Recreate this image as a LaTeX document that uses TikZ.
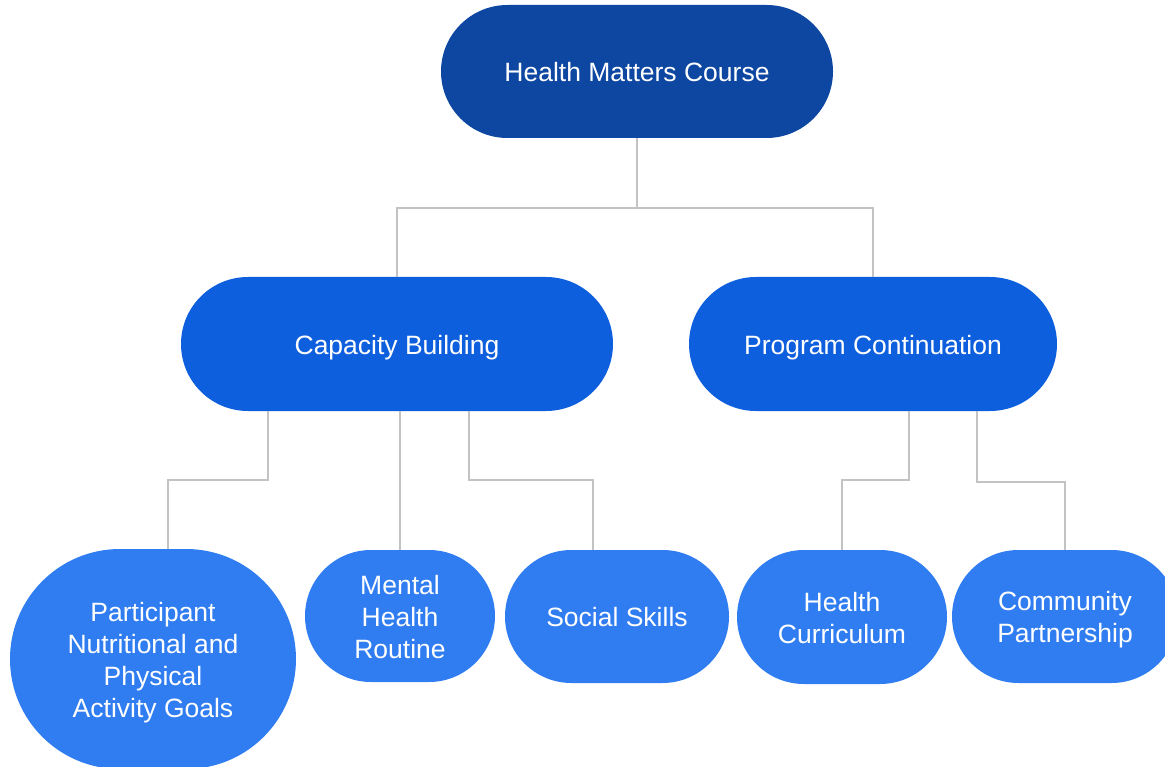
\documentclass[tikz,border=0pt]{standalone}
\usepackage{fontspec}
\setmainfont{Liberation Sans}
\usetikzlibrary{calc}
\definecolor{rootblue}{HTML}{0D47A1}
\definecolor{midblue}{HTML}{0E5FDD}
\definecolor{leafblue}{HTML}{307DF1}
\definecolor{linkgray}{HTML}{C3C3C3}
% fixed top and bottom extents so every label sits on the same vertical centre
\newcommand\topstrut{\rule{0pt}{1.0em}}
\newcommand\botstrut{\rule[-0.22em]{0pt}{0.22em}}
\begin{document}
\begin{tikzpicture}[x=1pt,y=1pt,
  pill/.style={rectangle, text=white, align=center, inner sep=0pt,
    font=\fontsize{26.5}{32}\selectfont},
  rootpill/.style={pill, fill=rootblue},
  midpill/.style={pill, fill=midblue},
  leafpill/.style={pill, fill=leafblue},
  link/.style={draw=linkgray, line width=2pt}]
\useasboundingbox (0,0) rectangle (1165,-767);
\clip (0,0) rectangle (1165,-767);

% top level
\node[rootpill, minimum width=392, minimum height=133, rounded corners=66.5] (root) at (637,-71.5) {\topstrut Health Matters Course\botstrut};

% second level
\node[midpill, minimum width=432, minimum height=134, rounded corners=67] (cap) at (397,-344) {\topstrut Capacity Building\botstrut};
\node[midpill, minimum width=368, minimum height=134, rounded corners=67] (prog) at (873,-344) {\topstrut Program Continuation\botstrut};

% third level
\node[leafpill, minimum width=286, minimum height=220, rounded corners=110] (goals) at (153,-659) {\topstrut Participant\\Nutritional and\\Physical\\Activity Goals\botstrut};
\node[leafpill, minimum width=190, minimum height=132, rounded corners=66] (mental) at (400,-616) {\topstrut Mental\\Health\\Routine\botstrut};
\node[leafpill, minimum width=224, minimum height=133, rounded corners=66.5] (social) at (617,-616.5) {\topstrut Social Skills\botstrut};
\node[leafpill, minimum width=210, minimum height=134, rounded corners=67] (curric) at (842,-617) {\topstrut Health\\Curriculum\botstrut};
\node[leafpill, minimum width=226, minimum height=133, rounded corners=66.5] (commun) at (1065,-616.5) {\topstrut Community\\Partnership\botstrut};

% connectors
\draw[link] (root.south) -- ++(0,-70) -| (cap.north);
\draw[link] (root.south) -- ++(0,-70) -| (prog.north);

\draw[link] ([xshift=87]cap.south west) -- ++(0,-69) -| ([xshift=15]goals.north);
\draw[link] (mental.north |- cap.south) -- (mental.north);
\draw[link] ([xshift=-144]cap.south east) -- ++(0,-69) -| ([xshift=-24]social.north);

\draw[link] ([xshift=36]prog.south) -- ++(0,-69) -| (curric.north);
\draw[link] ([xshift=104]prog.south) -- ++(0,-71) -| (commun.north);
\end{tikzpicture}
\end{document}
